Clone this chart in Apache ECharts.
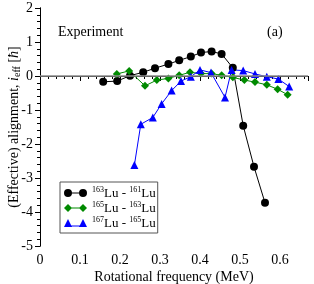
<!DOCTYPE html>
<html><head><meta charset="utf-8">
<script src="https://cdn.jsdelivr.net/npm/echarts@6/dist/echarts.min.js"></script>
<style>html,body{margin:0;padding:0;background:#fff}#c{width:314px;height:284px}</style>
</head><body><div id="c"></div>
<script>
// Data
const freq163_161 = [0.158,0.193,0.225,0.258,0.2875,0.321,0.348,0.377,0.4025,0.429,0.454,0.482,0.508,0.535,0.5625];
const ieff163_161 = [-0.17,-0.15,0.01,0.11,0.23,0.35,0.46,0.57,0.69,0.72,0.65,0.24,-1.46,-2.67,-3.73];
const freq165_163 = [0.192,0.223,0.2625,0.292,0.321,0.348,0.375,0.4025,0.429,0.454,0.482,0.511,0.5375,0.567,0.594,0.619];
const ieff165_163 = [0.06,0.15,-0.29,-0.12,-0.07,0.02,0.11,0.07,0.07,0.02,-0.04,-0.12,-0.18,-0.26,-0.39,-0.55];
const freq167_165 = [0.236,0.252,0.282,0.304,0.329,0.3525,0.377,0.4,0.4275,0.4625,0.479,0.508,0.5375,0.567,0.596,0.623];
const ieff167_165 = [-2.62,-1.42,-1.22,-0.82,-0.43,-0.15,-0.02,0.18,0.10,-0.63,0.18,0.16,0.06,-0.02,-0.09,-0.31];
const seriesNames = ['163-161','165-163','167-165'];
const massPairs = [['163','161'],['165','163'],['167','165']];
const xTicks = {min:0, max:0.67, interval:0.1};
const yTicks = {min:-5, max:2, interval:1};

const zip = (xs, ys) => xs.map((x,i)=>[x, ys[i]]);
const FONT = 'Liberation Serif';
const chart = echarts.init(document.getElementById('c'), null, {renderer:'canvas'});

const iconCircle = 'path://M0,4A4,4 0 1 1 8,4A4,4 0 1 1 0,4ZM7,3.5L16,3.5L16,4.5L7,4.5ZM15,4A4,4 0 1 1 23,4A4,4 0 1 1 15,4Z';
const iconDiamond = 'path://M0,4L4,0L8,4L4,8ZM7,3.5L16,3.5L16,4.5L7,4.5ZM15,4L19,0L23,4L19,8Z';
const iconTri = 'path://M0,8L4,0L8,8ZM7,6.5L16,6.5L16,7.5L7,7.5ZM15,8L19,0L23,8Z';

const axisCommon = {
  axisLine:{show:true, lineStyle:{color:'#000', width:1}},
  splitLine:{show:false},
  minorSplitLine:{show:false}
};

chart.setOption({
  animation:false,
  textStyle:{fontFamily:FONT},
  grid:{left:40, right:6, top:8, bottom:38, containLabel:false, outerBoundsMode:'none'},
  title:[
    {text:'Experiment', left:53, top:20, textStyle:{fontFamily:FONT, fontSize:14, fontWeight:'normal', color:'#000'}},
    {text:'(a)', left:262, top:20, textStyle:{fontFamily:FONT, fontSize:14, fontWeight:'normal', color:'#000'}}
  ],
  legend:{
    orient:'vertical', left:60, top:182,
    itemWidth:23, itemHeight:8, itemGap:1,
    padding:[4,2,3,4],
    borderColor:'#555', borderWidth:1, backgroundColor:'#fff',
    data:[
      {name:seriesNames[0], icon:iconCircle},
      {name:seriesNames[1], icon:iconDiamond},
      {name:seriesNames[2], icon:iconTri}
    ],
    formatter:function(name){
      const i = seriesNames.indexOf(name);
      return '{s|'+massPairs[i][0]+'}{n|Lu - }{s|'+massPairs[i][1]+'}{n|Lu}';
    },
    textStyle:{fontFamily:FONT, color:'#000', rich:{
      s:{fontFamily:FONT, fontSize:8, verticalAlign:'top', lineHeight:14, color:'#000'},
      n:{fontFamily:FONT, fontSize:13, verticalAlign:'bottom', lineHeight:14, color:'#000'}
    }}
  },
  xAxis:[
    Object.assign({}, axisCommon, {
      type:'value', position:'bottom', min:xTicks.min, max:xTicks.max, interval:xTicks.interval,
      name:'Rotational frequency (MeV)', nameLocation:'middle', nameGap:24, nameMoveOverlap:false,
      nameTextStyle:{fontFamily:FONT, fontSize:14, color:'#000'},
      axisTick:{show:true, inside:false, length:5, lineStyle:{color:'#000'}},
      minorTick:{show:true, splitNumber:5, length:3, lineStyle:{color:'#000'}},
      axisLabel:{show:true, fontFamily:FONT, fontSize:14, color:'#000', margin:7, showMaxLabel:false,
        formatter:function(v){return Math.abs(v*10-Math.round(v*10))<1e-6 ? String(+v.toFixed(1)) : '';}}
    }),
    Object.assign({}, axisCommon, {
      type:'value', position:'top', min:xTicks.min, max:xTicks.max, interval:xTicks.interval,
      axisTick:{show:true, inside:true, length:5, lineStyle:{color:'#000'}},
      minorTick:{show:true, splitNumber:5, length:3, lineStyle:{color:'#000'}},
      axisLabel:{show:false}
    })
  ],
  yAxis:[
    Object.assign({}, axisCommon, {
      type:'value', position:'left', min:yTicks.min, max:yTicks.max, interval:yTicks.interval,
      name:'{n|(Effective) alignment, }{i|i}{sub|eff}{n| [}{i|ħ}{n|]}',
      nameLocation:'middle', nameGap:18, nameRotate:90, nameMoveOverlap:false,
      nameTextStyle:{fontFamily:FONT, fontSize:14, color:'#000', rich:{
        n:{fontFamily:FONT, fontSize:14, color:'#000'},
        i:{fontFamily:FONT, fontSize:14, fontStyle:'italic', color:'#000'},
        sub:{fontFamily:FONT, fontSize:10, color:'#000', verticalAlign:'bottom', padding:[6,0,0,0]}
      }},
      axisTick:{show:true, inside:false, length:5, lineStyle:{color:'#000'}},
      minorTick:{show:true, splitNumber:5, length:3, lineStyle:{color:'#000'}},
      axisLabel:{show:true, fontFamily:FONT, fontSize:14, color:'#000', margin:7}
    }),
    Object.assign({}, axisCommon, {
      type:'value', position:'right', min:yTicks.min, max:yTicks.max, interval:yTicks.interval,
      axisTick:{show:true, inside:true, length:5, lineStyle:{color:'#000'}},
      minorTick:{show:true, splitNumber:5, length:3, lineStyle:{color:'#000'}},
      axisLabel:{show:false}
    })
  ],
  series:[
    {name:seriesNames[0], type:'line', data:zip(freq163_161, ieff163_161),
     symbol:'circle', symbolSize:8, color:'#000',
     lineStyle:{color:'#000', width:1}, itemStyle:{color:'#000'},
     markLine:{silent:true, symbol:'none', label:{show:false}, lineStyle:{color:'#8a8a8a', width:1.5, type:'solid'}, data:[{yAxis:0}]},
     z:3},
    {name:seriesNames[1], type:'line', data:zip(freq165_163, ieff165_163),
     symbol:'diamond', symbolSize:8, color:'#008a00',
     lineStyle:{color:'#008a00', width:1}, itemStyle:{color:'#008a00'}, z:3},
    {name:seriesNames[2], type:'line', data:zip(freq167_165, ieff167_165),
     symbol:'triangle', symbolSize:8, color:'#0000ff',
     lineStyle:{color:'#0000ff', width:1}, itemStyle:{color:'#0000ff'}, z:3}
  ]
});
</script></body></html>
